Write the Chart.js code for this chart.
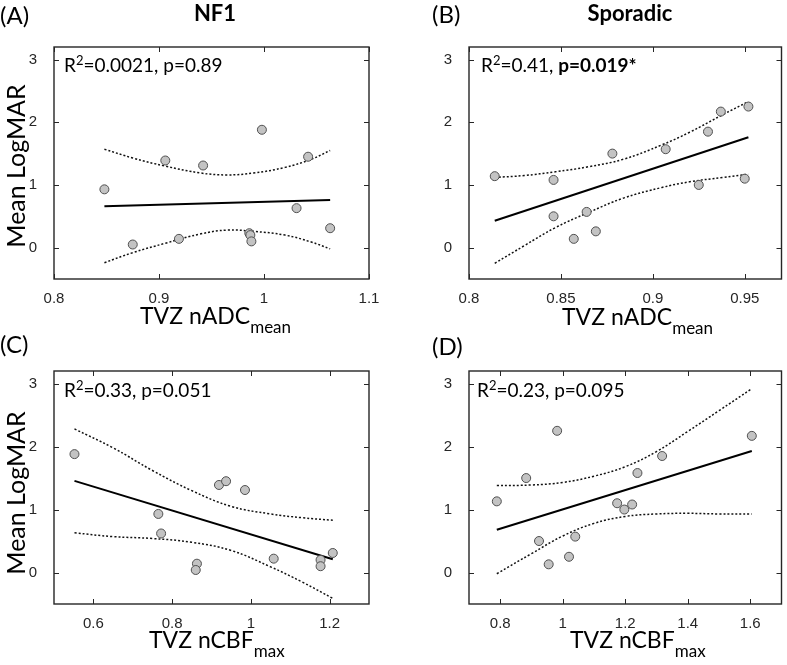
<!DOCTYPE html>
<html>
<head>
<meta charset="utf-8">
<script src="https://cdn.jsdelivr.net/npm/chart.js@4/dist/chart.umd.min.js"></script>
<style>
  body { margin: 0; width: 787px; height: 665px; position: relative; background: #fff; overflow: hidden; font-family: Lato, sans-serif; color: #000; }
  canvas { position: absolute; }
  .t { position: absolute; white-space: nowrap; line-height: 1; }
  .lab { font-size: 24px; }
  .ttl { font-size: 22px; font-weight: bold; transform: translateX(-50%); }
  .ann { font-size: 19px; }
  .ann sup { font-size: 13px; position: relative; top: -1px; vertical-align: top; }
  .xt { font-size: 23px; }
  .xt span { font-size: 17px; position: relative; top: 9px; }
  .yt { font-size: 25px; transform: translate(-50%, -50%) rotate(-90deg); }
</style>
</head>
<body>

<canvas id="cA" width="390" height="320" style="left:0;top:0"></canvas>
<canvas id="cB" width="397" height="320" style="left:390px;top:0"></canvas>
<canvas id="cC" width="390" height="345" style="left:0;top:320px"></canvas>
<canvas id="cD" width="397" height="345" style="left:390px;top:320px"></canvas>

<div class="t lab" style="left:0;top:3px">(A)</div>
<div class="t lab" style="left:432px;top:2px">(B)</div>
<div class="t lab" style="left:0;top:332px">(C)</div>
<div class="t lab" style="left:432px;top:334px">(D)</div>

<div class="t ttl" style="left:215px;top:2px">NF1</div>
<div class="t ttl" style="left:630px;top:2px">Sporadic</div>

<div class="t ann" style="left:64px;top:55px">R<sup>2</sup>=0.0021, p=0.89</div>
<div class="t ann" style="left:481px;top:55px">R<sup>2</sup>=0.41, <b>p=0.019*</b></div>
<div class="t ann" style="left:64px;top:380px">R<sup>2</sup>=0.33, p=0.051</div>
<div class="t ann" style="left:477px;top:380px">R<sup>2</sup>=0.23, p=0.095</div>

<div class="t xt" style="left:140px;top:304px">TVZ nADC<span>mean</span></div>
<div class="t xt" style="left:562px;top:305px">TVZ nADC<span>mean</span></div>
<div class="t xt" style="left:149px;top:628px">TVZ nCBF<span>max</span></div>
<div class="t xt" style="left:570px;top:628px">TVZ nCBF<span>max</span></div>

<div class="t yt" style="left:15px;top:166px">Mean LogMAR</div>
<div class="t yt" style="left:15px;top:493px">Mean LogMAR</div>

<script>
// shared y axis
const yMin = -0.5, yMax = 3.2;
const yTicks = [0, 1, 2, 3];

// (A) NF1, TVZ nADC mean
const adcNf1X = [0.848, 0.875, 0.906, 0.919, 0.942, 0.998, 0.986, 0.987, 0.988, 1.031, 1.042, 1.063];
const adcNf1Y = [0.93, 0.05, 1.39, 0.14, 1.31, 1.88, 0.23, 0.20, 0.10, 0.63, 1.45, 0.31];
const adcNf1FitX = [0.848, 1.063];
const adcNf1FitY = [0.66, 0.76];
const adcNf1CiX = [0.848, 0.875, 0.906, 0.94, 0.965, 0.99, 1.02, 1.045, 1.063];
const adcNf1CiUp = [1.57, 1.43, 1.30, 1.19, 1.16, 1.19, 1.28, 1.41, 1.55];
const adcNf1CiLo = [-0.24, -0.08, 0.07, 0.22, 0.28, 0.26, 0.20, 0.09, -0.02];
const adcNf1Ticks = [0.8, 0.9, 1, 1.1];

// (B) Sporadic, TVZ nADC mean
const adcSpoX = [0.814, 0.846, 0.846, 0.857, 0.864, 0.869, 0.878, 0.907, 0.925, 0.930, 0.937, 0.950, 0.952];
const adcSpoY = [1.14, 1.08, 0.50, 0.14, 0.57, 0.26, 1.50, 1.57, 1.00, 1.85, 2.17, 1.10, 2.25];
const adcSpoFitX = [0.814, 0.952];
const adcSpoFitY = [0.43, 1.76];
const adcSpoCiX = [0.814, 0.83, 0.847, 0.865, 0.884, 0.905, 0.92, 0.938, 0.952];
const adcSpoCiUp = [1.12, 1.15, 1.21, 1.29, 1.41, 1.64, 1.84, 2.12, 2.33];
const adcSpoCiLo = [-0.25, 0.03, 0.32, 0.56, 0.79, 0.96, 1.05, 1.12, 1.17];
const adcSpoTicks = [0.8, 0.85, 0.9, 0.95];

// (C) NF1, TVZ nCBF max
const cbfNf1X = [0.552, 0.765, 0.772, 0.863, 0.860, 0.919, 0.937, 0.985, 1.058, 1.177, 1.177, 1.208];
const cbfNf1Y = [1.88, 0.93, 0.62, 0.14, 0.04, 1.39, 1.45, 1.31, 0.22, 0.20, 0.10, 0.31];
const cbfNf1FitX = [0.552, 1.208];
const cbfNf1FitY = [1.455, 0.21];
const cbfNf1CiX = [0.552, 0.65, 0.75, 0.85, 0.95, 1.05, 1.13, 1.208];
const cbfNf1CiUp = [2.28, 1.98, 1.62, 1.30, 1.05, 0.93, 0.87, 0.83];
const cbfNf1CiLo = [0.63, 0.57, 0.54, 0.48, 0.35, 0.09, -0.15, -0.41];
const cbfNf1Ticks = [0.6, 0.8, 1, 1.2];

// (D) Sporadic, TVZ nCBF max
const cbfSpoX = [0.789, 0.883, 0.924, 0.955, 0.982, 1.020, 1.040, 1.174, 1.197, 1.222, 1.239, 1.318, 1.605];
const cbfSpoY = [1.13, 1.50, 0.50, 0.13, 2.25, 0.25, 0.57, 1.10, 1.00, 1.08, 1.58, 1.85, 2.17];
const cbfSpoFitX = [0.789, 1.605];
const cbfSpoFitY = [0.68, 1.93];
const cbfSpoCiX = [0.789, 0.9, 1.0, 1.1, 1.2, 1.3, 1.4, 1.5, 1.605];
const cbfSpoCiUp = [1.38, 1.39, 1.43, 1.53, 1.68, 1.92, 2.24, 2.57, 2.92];
const cbfSpoCiLo = [-0.02, 0.30, 0.58, 0.78, 0.89, 0.93, 0.94, 0.93, 0.93];
const cbfSpoTicks = [0.8, 1, 1.2, 1.4, 1.6];

const AXIS = "#262626";
const zip = (xs, ys) => xs.map((x, i) => ({ x, y: ys[i] }));

// matlab-like box with inward ticks on all four sides
const boxPlugin = {
  id: "box",
  afterDatasetsDraw(chart) {
    const { ctx, chartArea: a, scales: { x, y } } = chart;
    const L = 5;
    ctx.save();
    ctx.strokeStyle = AXIS;
    ctx.lineWidth = 1.4;
    ctx.strokeRect(a.left, a.top, a.right - a.left, a.bottom - a.top);
    ctx.lineWidth = 1;
    ctx.beginPath();
    x.ticks.forEach(t => {
      const px = Math.round(x.getPixelForValue(t.value)) + 0.5;
      ctx.moveTo(px, a.bottom); ctx.lineTo(px, a.bottom - L);
      ctx.moveTo(px, a.top); ctx.lineTo(px, a.top + L);
    });
    y.ticks.forEach(t => {
      const py = Math.round(y.getPixelForValue(t.value)) + 0.5;
      ctx.moveTo(a.left, py); ctx.lineTo(a.left + L, py);
      ctx.moveTo(a.right, py); ctx.lineTo(a.right - L, py);
    });
    ctx.stroke();
    ctx.restore();
  }
};

function makePanel(id, p) {
  const tickFont = { family: "'Liberation Sans', Arial, sans-serif", size: 15 };
  return new Chart(document.getElementById(id), {
    type: "scatter",
    data: {
      datasets: [
        { data: zip(p.px, p.py), pointRadius: 4.5, pointBackgroundColor: "#c3c3c3",
          pointBorderColor: "#505050", pointBorderWidth: 1, order: 0 },
        { data: zip(p.fitX, p.fitY), showLine: true, borderColor: "#000", borderWidth: 2,
          pointRadius: 0, order: 1 },
        { data: zip(p.ciX, p.ciUp), showLine: true, borderColor: "#111", borderWidth: 1.5,
          borderDash: [2, 2], pointRadius: 0, tension: 0.4, order: 2 },
        { data: zip(p.ciX, p.ciLo), showLine: true, borderColor: "#111", borderWidth: 1.5,
          borderDash: [2, 2], pointRadius: 0, tension: 0.4, order: 3 },
      ]
    },
    options: {
      responsive: false,
      animation: false,
      events: [],
      layout: { padding: { top: p.padTop, right: p.padRight, left: 0, bottom: 0 } },
      plugins: { legend: { display: false }, tooltip: { enabled: false } },
      scales: {
        x: {
          type: "linear", min: p.xMin, max: p.xMax,
          afterBuildTicks: s => { s.ticks = p.xTicks.map(v => ({ value: v })); },
          afterFit: s => { s.height = p.xAxisH; },
          grid: { display: false }, border: { display: false },
          ticks: { font: tickFont, color: AXIS, padding: 3, maxRotation: 0, callback: v => String(v) }
        },
        y: {
          type: "linear", min: yMin, max: yMax,
          afterBuildTicks: s => { s.ticks = yTicks.map(v => ({ value: v })); },
          afterFit: s => { s.width = p.yAxisW; },
          grid: { display: false }, border: { display: false },
          ticks: { font: tickFont, color: AXIS, padding: 9, callback: v => String(v) }
        }
      }
    },
    plugins: [boxPlugin]
  });
}

makePanel("cA", { px: adcNf1X, py: adcNf1Y, fitX: adcNf1FitX, fitY: adcNf1FitY,
  ciX: adcNf1CiX, ciUp: adcNf1CiUp, ciLo: adcNf1CiLo, xTicks: adcNf1Ticks,
  xMin: 0.8, xMax: 1.1, padTop: 47, padRight: 21, yAxisW: 54, xAxisH: 41 });

makePanel("cB", { px: adcSpoX, py: adcSpoY, fitX: adcSpoFitX, fitY: adcSpoFitY,
  ciX: adcSpoCiX, ciUp: adcSpoCiUp, ciLo: adcSpoCiLo, xTicks: adcSpoTicks,
  xMin: 0.8, xMax: 0.97, padTop: 47, padRight: 4, yAxisW: 79, xAxisH: 41 });

makePanel("cC", { px: cbfNf1X, py: cbfNf1Y, fitX: cbfNf1FitX, fitY: cbfNf1FitY,
  ciX: cbfNf1CiX, ciUp: cbfNf1CiUp, ciLo: cbfNf1CiLo, xTicks: cbfNf1Ticks,
  xMin: 0.5, xMax: 1.3, padTop: 51, padRight: 21, yAxisW: 54, xAxisH: 61 });

makePanel("cD", { px: cbfSpoX, py: cbfSpoY, fitX: cbfSpoFitX, fitY: cbfSpoFitY,
  ciX: cbfSpoCiX, ciUp: cbfSpoCiUp, ciLo: cbfSpoCiLo, xTicks: cbfSpoTicks,
  xMin: 0.7, xMax: 1.7, padTop: 51, padRight: 4, yAxisW: 79, xAxisH: 61 });
</script>
</body>
</html>
